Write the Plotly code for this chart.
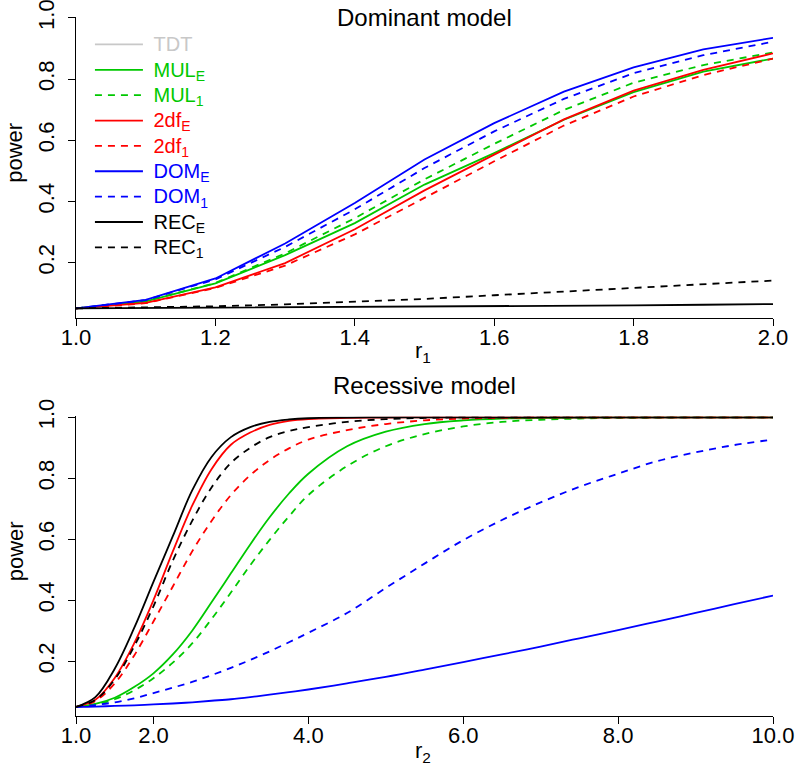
import plotly.graph_objects as go

# ---------------- data ----------------
r1 = [1.0, 1.1, 1.2, 1.3, 1.4, 1.5, 1.6, 1.7, 1.8, 1.9, 2.0]
dom_MUL_E = [0.050, 0.073, 0.132, 0.224, 0.329, 0.455, 0.558, 0.667, 0.757, 0.824, 0.867]
dom_MUL_1 = [0.050, 0.074, 0.133, 0.230, 0.345, 0.472, 0.588, 0.699, 0.788, 0.846, 0.887]
dom_2df_E = [0.050, 0.068, 0.119, 0.198, 0.309, 0.436, 0.553, 0.668, 0.762, 0.830, 0.884]
dom_2df_1 = [0.050, 0.067, 0.117, 0.190, 0.292, 0.412, 0.531, 0.648, 0.743, 0.813, 0.867]
dom_DOM_E = [0.050, 0.078, 0.148, 0.262, 0.395, 0.537, 0.656, 0.759, 0.838, 0.897, 0.935]
dom_DOM_1 = [0.050, 0.077, 0.145, 0.251, 0.374, 0.509, 0.629, 0.735, 0.819, 0.878, 0.922]
dom_REC_E = [0.050, 0.051, 0.052, 0.053, 0.054, 0.055, 0.057, 0.058, 0.060, 0.062, 0.064]
dom_REC_1 = [0.050, 0.053, 0.057, 0.063, 0.071, 0.081, 0.093, 0.105, 0.118, 0.130, 0.141]

r2 = [1.0, 1.25, 1.5, 1.75, 2.0, 2.25, 2.5, 2.75, 3.0, 3.25, 3.5, 3.75, 4.0,
      4.5, 5.0, 5.5, 6.0, 6.5, 7.0, 7.5, 8.0, 8.5, 9.0, 9.5, 10.0]
rec_MUL_E = [0.050, 0.060, 0.080, 0.115, 0.160, 0.222, 0.300, 0.393, 0.488, 0.583, 0.672, 0.750, 0.815,
             0.905, 0.953, 0.978, 0.990, 0.996, 0.998, 0.999, 1.0, 1.0, 1.0, 1.0, 1.0]
rec_MUL_1 = [0.050, 0.058, 0.075, 0.104, 0.144, 0.195, 0.258, 0.338, 0.425, 0.515, 0.598, 0.675, 0.745,
             0.840, 0.905, 0.945, 0.970, 0.985, 0.992, 0.996, 0.998, 0.999, 1.0, 1.0, 1.0]
rec_2df_E = [0.050, 0.073, 0.145, 0.258, 0.400, 0.560, 0.710, 0.830, 0.910, 0.950, 0.975, 0.988, 0.994,
             0.998, 0.999, 1.0, 1.0, 1.0, 1.0, 1.0, 1.0, 1.0, 1.0, 1.0, 1.0]
rec_2df_1 = [0.050, 0.069, 0.127, 0.218, 0.330, 0.445, 0.560, 0.660, 0.745, 0.810, 0.860, 0.898, 0.927,
             0.958, 0.978, 0.990, 0.996, 0.998, 1.0, 1.0, 1.0, 1.0, 1.0, 1.0, 1.0]
rec_DOM_E = [0.050, 0.051, 0.053, 0.055, 0.058, 0.061, 0.065, 0.070, 0.075, 0.082, 0.090, 0.098, 0.107,
             0.127, 0.148, 0.172, 0.197, 0.222, 0.248, 0.275, 0.302, 0.330, 0.358, 0.387, 0.415]
rec_DOM_1 = [0.050, 0.056, 0.065, 0.078, 0.095, 0.113, 0.132, 0.154, 0.178, 0.204, 0.232, 0.262, 0.293,
             0.358, 0.440, 0.520, 0.597, 0.663, 0.721, 0.772, 0.815, 0.856, 0.885, 0.909, 0.927]
rec_REC_E = [0.050, 0.082, 0.175, 0.308, 0.460, 0.610, 0.760, 0.870, 0.935, 0.968, 0.985, 0.993, 0.997,
             0.999, 1.0, 1.0, 1.0, 1.0, 1.0, 1.0, 1.0, 1.0, 1.0, 1.0, 1.0]
rec_REC_1 = [0.050, 0.073, 0.140, 0.248, 0.380, 0.530, 0.660, 0.770, 0.850, 0.900, 0.935, 0.955, 0.968,
             0.985, 0.994, 0.998, 1.0, 1.0, 1.0, 1.0, 1.0, 1.0, 1.0, 1.0, 1.0]

x1_ticks = [1.0, 1.2, 1.4, 1.6, 1.8, 2.0]
x1_labels = ["1.0", "1.2", "1.4", "1.6", "1.8", "2.0"]
x2_ticks = [1.0, 2.0, 4.0, 6.0, 8.0, 10.0]
x2_labels = ["1.0", "2.0", "4.0", "6.0", "8.0", "10.0"]
y_ticks = [0.2, 0.4, 0.6, 0.8, 1.0]
y_labels = ["0.2", "0.4", "0.6", "0.8", "1.0"]

GREEN = "#00C800"
RED = "#FF0000"
BLUE = "#0000FF"
BLACK = "#000000"
GRAY = "#C8C8C8"
FONT = "Liberation Sans, Arial, sans-serif"

series = [
    ("MUL<sub>E</sub>", GREEN, "solid", dom_MUL_E, rec_MUL_E),
    ("MUL<sub>1</sub>", GREEN, "dash", dom_MUL_1, rec_MUL_1),
    ("2df<sub>E</sub>", RED, "solid", dom_2df_E, rec_2df_E),
    ("2df<sub>1</sub>", RED, "dash", dom_2df_1, rec_2df_1),
    ("DOM<sub>E</sub>", BLUE, "solid", dom_DOM_E, rec_DOM_E),
    ("DOM<sub>1</sub>", BLUE, "dash", dom_DOM_1, rec_DOM_1),
    ("REC<sub>E</sub>", BLACK, "solid", dom_REC_E, rec_REC_E),
    ("REC<sub>1</sub>", BLACK, "dash", dom_REC_1, rec_REC_1),
]

DASH = {"solid": "solid", "dash": "7px,6px"}
LW = 1.8


def lab(text, color):
    return "<span style='color:%s;font-size:20px'>\u00a0%s</span>" % (color, text)


fig = go.Figure()
# TDT appears in the legend only
fig.add_trace(go.Scatter(x=[None], y=[None], mode="lines", name=lab("TDT", GRAY),
                         line=dict(color=GRAY, width=LW), xaxis="x", yaxis="y"))
for name, col, dash, ydom, yrec in series:
    fig.add_trace(go.Scatter(x=r1, y=ydom, mode="lines", name=lab(name, col),
                             line=dict(color=col, width=LW, dash=DASH[dash]),
                             xaxis="x", yaxis="y", hoverinfo="skip"))
for name, col, dash, ydom, yrec in series:
    fig.add_trace(go.Scatter(x=r2, y=yrec, mode="lines", name=lab(name, col), showlegend=False,
                             line=dict(color=col, width=LW, dash=DASH[dash], shape="spline", smoothing=1.0),
                             xaxis="x2", yaxis="y2", hoverinfo="skip"))

axis_common = dict(showline=True, linecolor="black", linewidth=1.3, ticks="outside", ticklen=7,
                   tickwidth=1.3, tickcolor="black", showgrid=False, zeroline=False, automargin=False,
                   ticklabeloverflow="allow",
                   tickfont=dict(size=22, color="black", family=FONT))

fig.update_layout(
    width=800, height=768,
    margin=dict(l=76, r=27, t=17, b=52, autoexpand=False),
    paper_bgcolor="white", plot_bgcolor="white",
    font=dict(family=FONT, color="black"),
    xaxis=dict(domain=[0, 1], anchor="y", range=[1.0, 2.0], tickvals=x1_ticks, ticktext=x1_labels,
               ticklabelstandoff=-7, **axis_common),
    yaxis=dict(domain=[0.57, 1.0], anchor="x", range=[0.02, 1.003], tickvals=y_ticks, ticktext=y_labels,
               tickangle=-90, ticklabelstandoff=5, **axis_common),
    xaxis2=dict(domain=[0, 1], anchor="y2", range=[1.0, 10.0], tickvals=x2_ticks, ticktext=x2_labels,
                ticklabelstandoff=-8, **axis_common),
    yaxis2=dict(domain=[0, 0.4286], anchor="x2", range=[0.02, 1.003], tickvals=y_ticks, ticktext=y_labels,
                tickangle=-90, ticklabelstandoff=5, **axis_common),
    showlegend=True,
    legend=dict(x=0.02, y=0.986, xanchor="left", yanchor="top", bgcolor="rgba(0,0,0,0)",
                font=dict(size=17.2, family=FONT), itemwidth=48, tracegroupgap=0),
    annotations=[
        dict(text="Dominant model", x=0.5, y=0.9986, xref="paper", yref="paper", showarrow=False,
             xanchor="center", yanchor="middle", font=dict(size=24, family=FONT)),
        dict(text="Recessive model", x=0.5, y=0.4729, xref="paper", yref="paper", showarrow=False,
             xanchor="center", yanchor="middle", font=dict(size=24, family=FONT)),
        dict(text="power", x=-0.0875, y=0.8057, xref="paper", yref="paper", showarrow=False, textangle=-90,
             xanchor="center", yanchor="middle", font=dict(size=22, family=FONT)),
        dict(text="power", x=-0.0875, y=0.2357, xref="paper", yref="paper", showarrow=False, textangle=-90,
             xanchor="center", yanchor="middle", font=dict(size=22, family=FONT)),
        dict(text="r<sub>1</sub>", x=0.498, y=(716 - 352) / 699, xref="paper", yref="paper", showarrow=False,
             xanchor="center", yanchor="middle", font=dict(size=22, family=FONT)),
        dict(text="r<sub>2</sub>", x=0.498, y=(716 - 752) / 699, xref="paper", yref="paper", showarrow=False,
             xanchor="center", yanchor="middle", font=dict(size=22, family=FONT)),
    ],
)

# remove the browser's default 8px body margin so the figure sits at the page origin
fig.write_html("out.html", config={"displayModeBar": False},
               post_script="document.body.style.margin='0px';")
